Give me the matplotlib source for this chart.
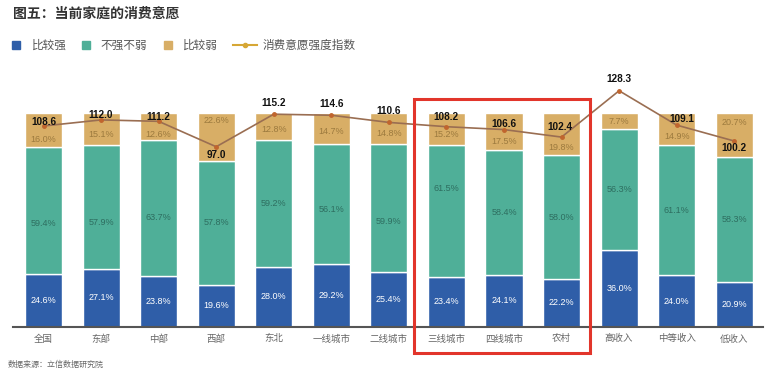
import matplotlib
matplotlib.use("Agg")
import matplotlib.pyplot as plt
from matplotlib.patches import Rectangle
from matplotlib.lines import Line2D
import numpy as np

plt.rcParams['font.family'] = ['Noto Sans CJK SC', 'DejaVu Sans']

categories = ['全国', '东部', '中部', '西部', '东北', '一线城市', '二线城市',
              '三线城市', '四线城市', '农村', '高收入', '中等收入', '低收入']
strong = [24.6, 27.1, 23.8, 19.6, 28.0, 29.2, 25.4, 23.4, 24.1, 22.2, 36.0, 24.0, 20.9]
neutral = [59.4, 57.9, 63.7, 57.8, 59.2, 56.1, 59.9, 61.5, 58.4, 58.0, 56.3, 61.1, 58.3]
weak = [16.0, 15.1, 12.6, 22.6, 12.8, 14.7, 14.8, 15.2, 17.5, 19.8, 7.7, 14.9, 20.7]
index_vals = [108.6, 112.0, 111.2, 97.0, 115.2, 114.6, 110.6, 108.2, 106.6, 102.4, 128.3, 109.1, 100.2]
legend_labels = ['比较强', '不强不弱', '比较弱', '消费意愿强度指数']

# label placement tweaks (points)
idx_off = [(0, 3), (0, 3.6), (0, 3.3), (0, -5.8), (0, 8), (0, 8), (0, 8),
           (0, 7.2), (0, 4.3), (-1.5, 7.4), (0, 8.6), (3.4, 4.3), (0, -5)]
teal_off = [-9, -11, -7, 0, 0, -3.6, -9.4, 15.8, 0, 0, 0, 0, 0]
tan_off = [-7.2, -4.3, -5.8, 11.5, -2.2, -2.2, -3.6, -4.3, -7.2, -10, 0, -5.8, 9.4]

C_BLUE = '#2F5EA8'
C_TEAL = '#4FAF98'
C_TAN = '#D8AE66'
C_LINE = '#9A6E52'
C_LEG_LINE = '#D6A735'

W, H = 770, 374
fig = plt.figure(figsize=(W / 100, H / 100), dpi=100)
ax_left, ax_right = 13, 763
ax_bot, ax_top = 326.7, 70
ax = fig.add_axes([ax_left / W, 1 - ax_bot / H, (ax_right - ax_left) / W, (ax_bot - ax_top) / H])

x = np.arange(len(categories))
bw = 0.645
s = np.array(strong)
n = np.array(neutral)
w = np.array(weak)
ax.bar(x, s, bw, color=C_BLUE, edgecolor='white', linewidth=1.0)
ax.bar(x, n, bw, bottom=s, color=C_TEAL, edgecolor='white', linewidth=1.0)
ax.bar(x, w, bw, bottom=s + n, color=C_TAN, edgecolor='white', linewidth=1.0)

ax.set_xlim(-0.53, 12.5)
ax.set_ylim(0, 120)
ax.set_yticks([])
ax.set_xticks(x)
ax.set_xticklabels(categories, fontsize=6.8, color='#666666')
ax.tick_params(axis='x', length=0, pad=5.5)
for sp in ['top', 'left', 'right']:
    ax.spines[sp].set_visible(False)
ax.spines['bottom'].set_color('#555555')
ax.spines['bottom'].set_linewidth(1.5)

num_font = ['Liberation Sans', 'DejaVu Sans']
for i in range(len(categories)):
    ax.annotate(f'{strong[i]:.1f}%', (x[i], s[i] / 2), ha='center', va='center',
                fontsize=6.5, color='white', family=num_font)
    ax.annotate(f'{neutral[i]:.1f}%', (x[i], s[i] + n[i] / 2), xytext=(0, teal_off[i]),
                textcoords='offset points', ha='center', va='center',
                fontsize=6.5, color='#2E6E60', family=num_font)
    ax.annotate(f'{weak[i]:.1f}%', (x[i], s[i] + n[i] + w[i] / 2), xytext=(0, tan_off[i]),
                textcoords='offset points', ha='center', va='center',
                fontsize=6.5, color='#9C7A3E', family=num_font)

ax2 = ax.twinx()
ax2.set_ylim(-3.6, 139.9)
ax2.axis('off')
ax2.plot(x, index_vals, color=C_LINE, linewidth=1.2, marker='o', markersize=2.5,
         markerfacecolor='#C0652E', markeredgecolor='#C0652E', zorder=5)
for i, v in enumerate(index_vals):
    ax2.annotate(f'{v:.1f}', (x[i], v), xytext=idx_off[i], textcoords='offset points',
                 ha='center', va='center', fontsize=7.2, fontweight='bold',
                 color='#111111', family=num_font, zorder=6)

# red highlight box
fig.patches.append(Rectangle((414 / W, 1 - 353 / H), 176 / W, 254 / H,
                             transform=fig.transFigure, fill=False,
                             edgecolor='#E2352B', linewidth=2.2, zorder=10))

# title
fig.text(13 / W, 1 - 14 / H, '图五：当前家庭的消费意愿', fontsize=10, fontweight='bold',
         color='#333333', ha='left', va='center')

# legend (manual)
ly = 1 - 45 / H
sq = 8
for (x0, col, tx, lab) in [(12, C_BLUE, 32, legend_labels[0]),
                           (82, C_TEAL, 100, legend_labels[1]),
                           (164, C_TAN, 183, legend_labels[2])]:
    fig.patches.append(Rectangle((x0 / W, ly - sq / 2 / H), sq / W, sq / H,
                                 transform=fig.transFigure, color=col))
    fig.text(tx / W, ly, lab, fontsize=8.4, color='#555555', ha='left', va='center')
fig.lines.append(Line2D([233 / W, 257 / W], [ly, ly], transform=fig.transFigure,
                        color=C_LEG_LINE, linewidth=1.5))
fig.lines.append(Line2D([245 / W], [ly], transform=fig.transFigure, marker='o',
                        markersize=3, color=C_LEG_LINE))
fig.text(263 / W, ly, legend_labels[3], fontsize=8.4, color='#555555', ha='left', va='center')

# source
fig.text(8 / W, 1 - 364 / H, '数据来源：立信数据研究院', fontsize=5.8, color='#666666',
         ha='left', va='center')

fig.savefig('out.png', dpi=100)
